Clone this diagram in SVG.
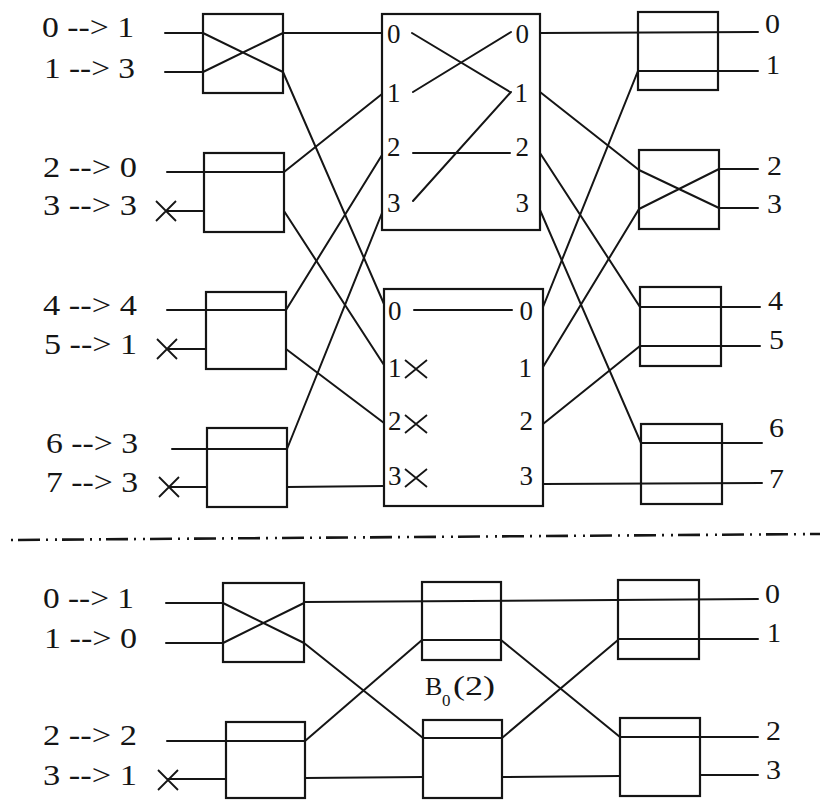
<svg xmlns="http://www.w3.org/2000/svg" width="820" height="800" viewBox="0 0 820 800">
<style>
.bx{fill:none;stroke:#151515;stroke-width:2.2}
.w{fill:none;stroke:#151515;stroke-width:2;stroke-linecap:round}
.x{fill:none;stroke:#151515;stroke-width:1.8}
.lab{font-family:"Liberation Serif","Times New Roman",serif;font-size:30px;fill:#151515}
.pl{font-family:"Liberation Serif","Times New Roman",serif;font-size:27px;fill:#151515}
.ol{font-family:"Liberation Serif","Times New Roman",serif;font-size:28px;fill:#151515}
.sep{fill:none;stroke:#151515;stroke-width:2.6;stroke-dasharray:22 6 2 7 2 5;stroke-dashoffset:36}
</style>
<defs>
<path id="xm" class="x" d="M-10,-10L10,10M-10,10L10,-10"/>
<path id="xs" class="x" d="M-11,-9L11,9M-11,9L11,-9"/>
</defs>
<rect width="820" height="800" fill="#fff"/>

<!-- Input labels -->
<g id="inputs-top">
<text class="lab" x="42" y="37" textLength="92" lengthAdjust="spacingAndGlyphs">0 --&gt; 1</text>
<text class="lab" x="44" y="78" textLength="91" lengthAdjust="spacingAndGlyphs">1 --&gt; 3</text>
<text class="lab" x="43" y="177" textLength="94" lengthAdjust="spacingAndGlyphs">2 --&gt; 0</text>
<text class="lab" x="43" y="215" textLength="94" lengthAdjust="spacingAndGlyphs">3 --&gt; 3</text>
<text class="lab" x="43" y="315" textLength="94" lengthAdjust="spacingAndGlyphs">4 --&gt; 4</text>
<text class="lab" x="44" y="354" textLength="93" lengthAdjust="spacingAndGlyphs">5 --&gt; 1</text>
<text class="lab" x="46" y="453" textLength="92" lengthAdjust="spacingAndGlyphs">6 --&gt; 3</text>
<text class="lab" x="46" y="492" textLength="92" lengthAdjust="spacingAndGlyphs">7 --&gt; 3</text>
</g>
<g id="inputs-bottom">
<text class="lab" x="43" y="608" textLength="91" lengthAdjust="spacingAndGlyphs">0 --&gt; 1</text>
<text class="lab" x="44" y="648" textLength="93" lengthAdjust="spacingAndGlyphs">1 --&gt; 0</text>
<text class="lab" x="43" y="745" textLength="94" lengthAdjust="spacingAndGlyphs">2 --&gt; 2</text>
<text class="lab" x="43" y="785" textLength="94" lengthAdjust="spacingAndGlyphs">3 --&gt; 1</text>
</g>

<!-- Top stage: left switches -->
<g id="L1"><rect class="bx" x="203" y="14" width="80" height="79"/>
<path class="w" d="M203,33L283,72M203,72L283,33"/></g>
<g id="L2"><rect class="bx" x="204" y="153" width="80" height="79"/></g>
<g id="L3"><rect class="bx" x="206" y="292" width="80" height="77"/></g>
<g id="L4"><rect class="bx" x="207" y="428" width="80" height="79"/></g>

<!-- Top stage: middle sub-networks -->
<g id="M1"><rect class="bx" x="382" y="14" width="158" height="216"/>
<text class="pl" x="387" y="43">0</text><text class="pl" x="387" y="102">1</text><text class="pl" x="387" y="156">2</text><text class="pl" x="387" y="212">3</text>
<text class="pl" x="529" y="43" text-anchor="end">0</text><text class="pl" x="528" y="102" text-anchor="end">1</text><text class="pl" x="529" y="156" text-anchor="end">2</text><text class="pl" x="529" y="212" text-anchor="end">3</text>
<path class="w" d="M412,33L510,92M413,92L511,32M413,153L510,153M413,201L511,92"/></g>
<g id="M2"><rect class="bx" x="384" y="289" width="159" height="217"/>
<text class="pl" x="388" y="320">0</text><text class="pl" x="388" y="377">1</text><text class="pl" x="388" y="430">2</text><text class="pl" x="388" y="485">3</text>
<text class="pl" x="533" y="320" text-anchor="end">0</text><text class="pl" x="532" y="377" text-anchor="end">1</text><text class="pl" x="533" y="430" text-anchor="end">2</text><text class="pl" x="533" y="485" text-anchor="end">3</text>
<path class="w" d="M414,310L512,310"/>
<use href="#xs" x="416" y="369"/><use href="#xs" x="416" y="424"/><use href="#xs" x="416" y="478"/></g>

<!-- Top stage: right switches -->
<g id="R1"><rect class="bx" x="638" y="12" width="80" height="78"/></g>
<g id="R2"><rect class="bx" x="639" y="150" width="80" height="79"/>
<path class="w" d="M639,170L719,208M639,209L719,169"/></g>
<g id="R3"><rect class="bx" x="640" y="287" width="81" height="79"/></g>
<g id="R4"><rect class="bx" x="641" y="424" width="81" height="80"/></g>

<g id="outputs-top">
<text class="ol" x="765" y="33" textLength="15" lengthAdjust="spacingAndGlyphs">0</text>
<text class="ol" x="766" y="74" textLength="14" lengthAdjust="spacingAndGlyphs">1</text>
<text class="ol" x="767" y="175" textLength="15" lengthAdjust="spacingAndGlyphs">2</text>
<text class="ol" x="767" y="213" textLength="15" lengthAdjust="spacingAndGlyphs">3</text>
<text class="ol" x="768" y="310" textLength="15" lengthAdjust="spacingAndGlyphs">4</text>
<text class="ol" x="769" y="349" textLength="15" lengthAdjust="spacingAndGlyphs">5</text>
<text class="ol" x="769" y="437" textLength="15" lengthAdjust="spacingAndGlyphs">6</text>
<text class="ol" x="769" y="488" textLength="15" lengthAdjust="spacingAndGlyphs">7</text>
</g>

<!-- Separator -->
<path id="separator" class="sep" d="M10,540L820,534"/>

<!-- Bottom stage -->
<g id="B1"><rect class="bx" x="223" y="583" width="81" height="79"/>
<path class="w" d="M223,603L304,643M223,643L304,603"/></g>
<g id="B2"><rect class="bx" x="226" y="722" width="79" height="76"/></g>
<g id="B3"><rect class="bx" x="422" y="582" width="79" height="78"/>
<path class="w" d="M422,640L501,640"/></g>
<g id="B4"><rect class="bx" x="423" y="720" width="79" height="78"/>
<path class="w" d="M423,738L502,738"/></g>
<g id="B5"><rect class="bx" x="618" y="580" width="81" height="79"/></g>
<g id="B6"><rect class="bx" x="620" y="718" width="80" height="78"/></g>
<g id="B0label"><text class="pl" x="425" y="695" style="font-size:26px">B</text><text class="pl" x="442" y="706" style="font-size:17px">0</text><text class="pl" x="453" y="695" textLength="42" lengthAdjust="spacingAndGlyphs">(2)</text></g>
<g id="outputs-bottom">
<text class="ol" x="765" y="603" textLength="15" lengthAdjust="spacingAndGlyphs">0</text>
<text class="ol" x="767" y="642" textLength="14" lengthAdjust="spacingAndGlyphs">1</text>
<text class="ol" x="766" y="740" textLength="15" lengthAdjust="spacingAndGlyphs">2</text>
<text class="ol" x="766" y="779" textLength="15" lengthAdjust="spacingAndGlyphs">3</text>
</g>

<!-- Connectors -->
<g id="connectors">
<path class="w" d="M165,33L203,33M165,72L203,72"/>
<path class="w" d="M167,172L284,172M166,211L204,211"/>
<path class="w" d="M167,310L286,310M167,349L206,349"/>
<path class="w" d="M172,449L287,449M169,487L207,487"/>
<use href="#xm" x="166" y="211"/><use href="#xm" x="167" y="349"/><use href="#xm" x="169" y="487"/>
<path class="w" d="M283,33L382,33M283,72L384,304"/>
<path class="w" d="M284,172L382,94M284,211L384,365"/>
<path class="w" d="M286,310L382,155M286,349L384,423"/>
<path class="w" d="M287,449L382,213M287,487L384,486"/>
<path class="w" d="M540,33L758,32"/>
<path class="w" d="M543,307L638,71L758,71"/>
<path class="w" d="M540,92L639,170"/>
<path class="w" d="M543,367L639,209"/>
<path class="w" d="M719,169L758,169M719,208L758,208"/>
<path class="w" d="M540,153L640,307L760,307"/>
<path class="w" d="M543,424L640,346L760,346"/>
<path class="w" d="M540,210L641,443L762,443"/>
<path class="w" d="M543,484L762,483"/>
<path class="w" d="M166,603L223,603M166,643L223,643"/>
<path class="w" d="M167,741L305,741M168,779L226,779"/>
<use href="#xm" x="168" y="780"/>
<path class="w" d="M304,602L758,599"/>
<path class="w" d="M304,643L423,738"/>
<path class="w" d="M305,741L422,640"/>
<path class="w" d="M305,778L423,777"/>
<path class="w" d="M501,640L620,737L758,737"/>
<path class="w" d="M502,738L618,640"/>
<path class="w" d="M618,639L758,639"/>
<path class="w" d="M502,777L620,776"/>
<path class="w" d="M700,775L758,775"/>
</g>
</svg>
